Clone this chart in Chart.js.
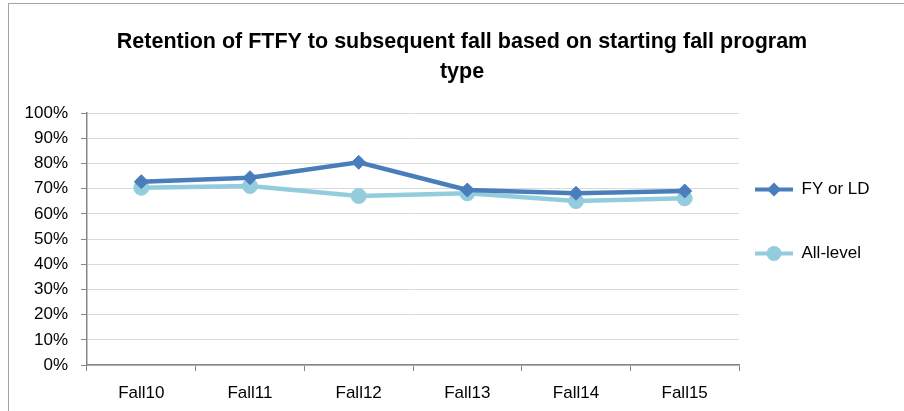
<!DOCTYPE html>
<html>
<head>
<meta charset="utf-8">
<title>Retention of FTFY</title>
<script src="https://cdn.jsdelivr.net/npm/chart.js@4.4.1/dist/chart.umd.min.js"></script>
<style>
  html, body { margin: 0; padding: 0; background: #fff; }
  #wrap { position: relative; width: 904px; height: 411px; overflow: hidden; }
  #frame { position: absolute; left: 8px; top: 3px; width: 900px; height: 420px; border-left: 1px solid #a6a6a6; border-top: 1px solid #a6a6a6; }
  #chart { position: absolute; left: 0; top: 0; }
</style>
</head>
<body>
<div id="wrap">
  <div id="frame"></div>
  <canvas id="chart" width="904" height="411"></canvas>
</div>
<script>
// data (percent)
const categories = ['Fall10', 'Fall11', 'Fall12', 'Fall13', 'Fall14', 'Fall15'];
const fyOrLd = [72.8, 74.4, 80.5, 69.5, 68.2, 69.1];
const allLevel = [70.4, 71.1, 67.1, 68.2, 65.1, 66.2];
const seriesNames = ['FY or LD', 'All-level'];

const FONT = "'Liberation Sans', Arial, sans-serif";
const DARK_BLUE = '#4a7ebb';
const LIGHT_BLUE = '#93cddd';
const LEGEND_WIDTH = 165;

// keep the legend column a fixed width so the plot ends where the reference does
const fixedLegendWidth = {
  id: 'fixedLegendWidth',
  beforeLayout(chart) {
    const legend = chart.legend;
    if (!legend || legend._fixedWidth) return;
    const fit = legend.fit;
    legend.fit = function () {
      fit.call(this);
      this.width = LEGEND_WIDTH;
    };
    legend._fixedWidth = true;
  }
};

// legend symbol: line with the series marker on it
const legendMarkers = {
  id: 'legendMarkers',
  afterDraw(chart) {
    const ctx = chart.ctx;
    chart.legend.legendHitBoxes.forEach((box, i) => {
      const ds = chart.data.datasets[i];
      const y = box.top + box.height / 2;
      const x0 = box.left;
      const x1 = box.left + 38;
      const cx = (x0 + x1) / 2;
      ctx.save();
      ctx.strokeStyle = ds.borderColor;
      ctx.fillStyle = ds.borderColor;
      ctx.lineWidth = 4;
      ctx.beginPath();
      ctx.moveTo(x0, y);
      ctx.lineTo(x1, y);
      ctx.stroke();
      ctx.beginPath();
      const r = ds.pointRadius;
      if (ds.pointStyle === 'rectRot') {
        ctx.moveTo(cx, y - r);
        ctx.lineTo(cx + r, y);
        ctx.lineTo(cx, y + r);
        ctx.lineTo(cx - r, y);
        ctx.closePath();
      } else {
        ctx.arc(cx, y, r, 0, Math.PI * 2);
      }
      ctx.fill();
      ctx.restore();
    });
  }
};

new Chart(document.getElementById('chart'), {
  type: 'line',
  data: {
    labels: categories,
    datasets: [
      {
        label: seriesNames[0],
        data: fyOrLd,
        borderColor: DARK_BLUE,
        backgroundColor: DARK_BLUE,
        borderWidth: 4.5,
        pointStyle: 'rectRot',
        pointRadius: 7,
        pointBorderWidth: 1,
        pointBorderColor: DARK_BLUE,
        pointBackgroundColor: DARK_BLUE,
        tension: 0
      },
      {
        label: seriesNames[1],
        data: allLevel,
        borderColor: LIGHT_BLUE,
        backgroundColor: LIGHT_BLUE,
        borderWidth: 4.5,
        pointStyle: 'circle',
        pointRadius: 7.5,
        pointBorderWidth: 1,
        pointBorderColor: LIGHT_BLUE,
        pointBackgroundColor: LIGHT_BLUE,
        tension: 0
      }
    ]
  },
  options: {
    responsive: false,
    animation: false,
    events: [],
    layout: {
      padding: { top: 40, left: 20, right: 0, bottom: 8 }
    },
    plugins: {
      title: {
        display: true,
        text: ['Retention of FTFY to subsequent fall based on starting fall program', 'type'],
        color: '#000',
        font: { family: FONT, size: 21.5, weight: 'bold', lineHeight: 1.4 },
        padding: { top: -13, bottom: 26 }
      },
      legend: {
        position: 'right',
        labels: {
          color: '#000',
          font: { family: FONT, size: 17 },
          boxWidth: 38,
          boxHeight: 48,
          padding: 16,
          generateLabels: (chart) =>
            Chart.defaults.plugins.legend.labels.generateLabels(chart).map((l) => ({
              ...l,
              fillStyle: 'rgba(0,0,0,0)',
              strokeStyle: 'rgba(0,0,0,0)',
              lineWidth: 0
            }))
        }
      },
      tooltip: { enabled: false }
    },
    scales: {
      x: {
        offset: true,
        afterFit: (scale) => { scale.height = 38; },
        grid: {
          offset: true,
          drawOnChartArea: false,
          drawTicks: true,
          tickLength: 6,
          tickColor: '#868686'
        },
        border: { color: '#868686', width: 1.5 },
        ticks: {
          color: '#000',
          font: { family: FONT, size: 17 },
          padding: 12,
          maxRotation: 0
        }
      },
      y: {
        min: 0,
        max: 100,
        afterFit: (scale) => { scale.width = 67; },
        grid: {
          color: '#d9d9d9',
          lineWidth: 1,
          tickLength: 6,
          tickColor: '#868686'
        },
        border: { color: '#868686', width: 1.5 },
        ticks: {
          stepSize: 10,
          color: '#000',
          font: { family: FONT, size: 17 },
          padding: 13,
          callback: (v) => v + '%'
        }
      }
    }
  },
  plugins: [fixedLegendWidth, legendMarkers]
});
</script>
</body>
</html>
